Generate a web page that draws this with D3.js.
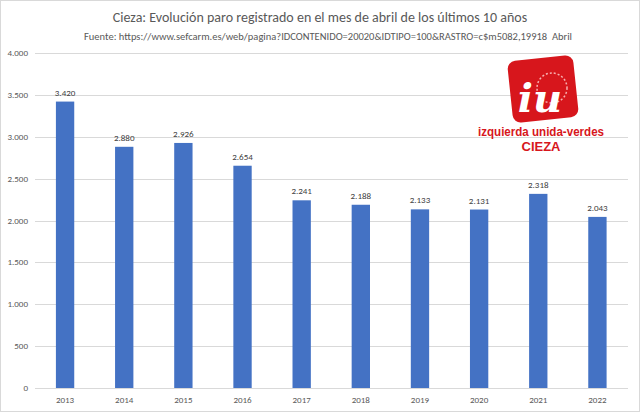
<!DOCTYPE html>
<html><head><meta charset="utf-8">
<script src="https://cdn.jsdelivr.net/npm/d3@7"></script>
<style>body{margin:0;background:#fff;font-family:Calibri,Carlito,"Liberation Sans",sans-serif}</style>
</head><body><div id="chart"></div>
<script>
var years = ["2013","2014","2015","2016","2017","2018","2019","2020","2021","2022"];
var paro = [3420,2880,2926,2654,2241,2188,2133,2131,2318,2043];
var yTicks = [0,500,1000,1500,2000,2500,3000,3500,4000];

var W = 640, H = 412;
var fmt = d3.format(",");
function es(v){ return fmt(v).replace(/,/g,"."); }

var svg = d3.select("#chart").append("svg").attr("width",W).attr("height",H);
svg.append("rect").attr("x",0.5).attr("y",0.5).attr("width",W-1).attr("height",H-1)
  .attr("fill","#fff").attr("stroke","#d9d9d9");

var x = d3.scaleBand().domain(years).range([35.5,627]).paddingInner(0.69).paddingOuter(0.345);
var y = d3.scaleLinear().domain([0,4000]).range([388,53]);

// gridlines
svg.append("g").selectAll("line").data(yTicks).enter().append("line")
  .attr("x1",35).attr("x2",628).attr("y1",d=>Math.round(y(d))+0.5).attr("y2",d=>Math.round(y(d))+0.5)
  .attr("stroke","#d9d9d9");

svg.append("g").selectAll("text").data(yTicks).enter().append("text")
  .attr("x",28).attr("y",d=>y(d)+3).attr("text-anchor","end")
  .attr("font-size",9).attr("fill","#595959").text(d=>es(d));

svg.append("g").selectAll("rect").data(paro).enter().append("rect")
  .attr("x",(d,i)=>x(years[i])).attr("width",x.bandwidth())
  .attr("y",d=>y(d)).attr("height",d=>y(0)-y(d)).attr("fill","#4472C4");

svg.append("g").selectAll("text").data(paro).enter().append("text")
  .attr("x",(d,i)=>x(years[i])+x.bandwidth()/2).attr("y",d=>y(d)-6)
  .attr("text-anchor","middle").attr("font-size",9).attr("fill","#404040").text(d=>es(d));

svg.append("g").selectAll("text").data(years).enter().append("text")
  .attr("x",d=>x(d)+x.bandwidth()/2).attr("y",403)
  .attr("text-anchor","middle").attr("font-size",9).attr("fill","#595959").text(d=>d);

svg.append("text").attr("x",320).attr("y",22).attr("text-anchor","middle")
  .attr("font-size",14).attr("fill","#595959")
  .text("Cieza: Evolución paro registrado en el mes de abril de los últimos 10 años");
svg.append("text").attr("x",328).attr("y",40).attr("text-anchor","middle")
  .attr("font-size",10.5).attr("fill","#595959").attr("xml:space","preserve")
  .text("Fuente: https://www.sefcarm.es/web/pagina?IDCONTENIDO=20020&IDTIPO=100&RASTRO=c$m5082,19918  Abril");

// logo
var logo = svg.append("g");
logo.append("rect").attr("x",510).attr("y",58).attr("width",66).attr("height",62).attr("rx",8)
  .attr("fill","#d7161c").attr("transform","rotate(-6 543 89)");
logo.append("circle").attr("cx",552).attr("cy",88).attr("r",15).attr("fill","none")
  .attr("stroke","#f7b0b0").attr("stroke-width",1.5).attr("stroke-dasharray","2 2");
logo.append("text").attr("x",540).attr("y",112).attr("text-anchor","middle")
  .attr("font-size",40).attr("font-weight","bold").attr("font-style","italic")
  .attr("font-family","DejaVu Serif,serif").attr("fill","#fff").text("iu");
logo.append("text").attr("x",541).attr("y",136).attr("text-anchor","middle")
  .attr("font-size",12).attr("font-weight","bold").attr("fill","#d7161c")
  .attr("textLength",126).attr("lengthAdjust","spacingAndGlyphs")
  .attr("font-family","Liberation Sans Narrow,Liberation Sans,sans-serif").text("izquierda unida-verdes");
logo.append("text").attr("x",541).attr("y",151).attr("text-anchor","middle")
  .attr("font-size",13).attr("font-weight","bold").attr("fill","#d7161c")
  .attr("font-family","Liberation Sans Narrow,Liberation Sans,sans-serif").text("CIEZA");
</script></body></html>
